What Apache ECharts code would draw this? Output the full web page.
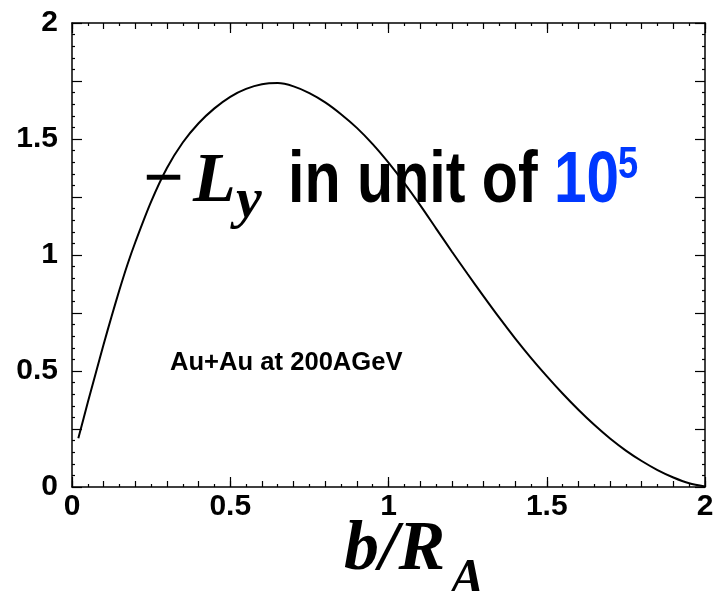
<!DOCTYPE html>
<html>
<head>
<meta charset="utf-8">
<script src="https://cdn.jsdelivr.net/npm/echarts@6/dist/echarts.min.js"></script>
<style>
html,body{margin:0;padding:0;background:#fff;}
#c{width:717px;height:591px;}
</style>
</head>
<body>
<div id="c"></div>
<script>
// Data
var bValues  = [0.02, 0.05, 0.075, 0.10, 0.125, 0.15, 0.175, 0.20, 0.25, 0.30, 0.35, 0.40, 0.45, 0.50, 0.55, 0.60, 0.65, 0.70, 0.75, 0.80, 0.85, 0.90, 0.95, 1.00, 1.05, 1.10, 1.15, 1.20, 1.25, 1.30, 1.35, 1.40, 1.45, 1.50, 1.55, 1.60, 1.65, 1.70, 1.75, 1.80, 1.85, 1.90, 1.95, 2.00];
var lyValues = [0.21, 0.365, 0.49, 0.615, 0.735, 0.85, 0.958, 1.055, 1.23, 1.375, 1.485, 1.568, 1.632, 1.682, 1.716, 1.736, 1.741, 1.727, 1.698, 1.658, 1.607, 1.548, 1.478, 1.398, 1.31, 1.215, 1.115, 1.015, 0.918, 0.823, 0.730, 0.641, 0.557, 0.478, 0.403, 0.333, 0.268, 0.209, 0.157, 0.112, 0.073, 0.041, 0.016, 0.002];
var xTicks = [0, 0.5, 1, 1.5, 2];
var yTicks = [0, 0.5, 1, 1.5, 2];
var titleMain = 'in unit of';
var titleExp = ['10', '5'];
var noteText = 'Au+Au at 200AGeV';

var SANS = '"Liberation Sans", Arial, Helvetica, sans-serif';
var SERIF = '"Liberation Serif", "Times New Roman", serif';
var BLUE = '#0038ff';

var chart = echarts.init(document.getElementById('c'), null, {renderer: 'canvas'});

function isMajor(v, list) {
  for (var i = 0; i < list.length; i++) if (Math.abs(list[i] - v) < 1e-9) return true;
  return false;
}

var lineStyle = {color: '#000', width: 1.5};
function xAx(pos, withLabel, major) {
  return {
    type: 'value', min: 0, max: 2, position: pos,
    interval: major ? 0.5 : 0.1,
    axisLine: {show: major, onZero: false, lineStyle: lineStyle},
    axisTick: {show: true, inside: true, length: major ? 10 : 6, lineStyle: {color: '#000', width: 1.2}},
    minorTick: {show: !major, splitNumber: 2, length: 3, lineStyle: {color: '#000', width: 1.2}},
    splitLine: {show: false}, minorSplitLine: {show: false},
    axisLabel: {show: withLabel, color: '#000', fontFamily: SANS, fontWeight: 'bold', fontSize: 30, margin: 5,
      formatter: function (v) { return isMajor(v, xTicks) ? String(v) : ''; }}
  };
}
function yAx(pos, withLabel) {
  return {
    type: 'value', min: 0, max: 2, position: pos, interval: 0.25,
    axisLine: {show: true, onZero: false, lineStyle: lineStyle},
    axisTick: {show: true, inside: true, length: 10, lineStyle: {color: '#000', width: 1.2}},
    minorTick: {show: true, splitNumber: 5, length: 3, lineStyle: {color: '#000', width: 1.2}},
    splitLine: {show: false}, minorSplitLine: {show: false},
    axisLabel: {show: withLabel, color: '#000', fontFamily: SANS, fontWeight: 'bold', fontSize: 30, margin: 14,
      formatter: function (v) { return isMajor(v, yTicks) ? String(v) : ''; }}
  };
}

function bl(baseline, size) { return baseline + 0.19 * size; }

var graphics = [
  {type: 'text', x: 143, y: bl(205, 72), style: {text: '\u2212', font: 'bold 72px ' + SERIF, fill: '#000', verticalAlign: 'bottom'}},
  {type: 'text', x: 193, y: bl(205, 70), style: {text: 'L', font: 'italic bold 70px ' + SERIF, fill: '#000', verticalAlign: 'bottom'}},
  {type: 'text', x: 236, y: bl(220, 58), style: {text: 'y', font: 'italic bold 58px ' + SERIF, fill: '#000', verticalAlign: 'bottom'}},
  {type: 'text', x: 288, y: bl(205, 72.6), scaleX: 0.815, style: {text: titleMain, font: 'bold 72.6px ' + SANS, fill: '#000', verticalAlign: 'bottom'}},
  {type: 'text', x: 554, y: bl(205, 72.6), scaleX: 0.806, style: {text: titleExp[0], font: 'bold 72.6px ' + SANS, fill: BLUE, verticalAlign: 'bottom'}},
  {type: 'text', x: 618, y: bl(180, 45), scaleX: 0.806, style: {text: titleExp[1], font: 'bold 45px ' + SANS, fill: BLUE, verticalAlign: 'bottom'}},
  {type: 'text', x: 170, y: bl(371, 25.6), style: {text: noteText, font: 'bold 25.6px ' + SANS, fill: '#000', verticalAlign: 'bottom'}},
  {type: 'text', x: 344, y: bl(573, 70), style: {text: 'b/R', font: 'italic bold 70px ' + SERIF, fill: '#000', verticalAlign: 'bottom'}},
  {type: 'text', x: 450, y: bl(598, 52), style: {text: 'A', font: 'italic bold 52px ' + SERIF, fill: '#000', verticalAlign: 'bottom'}}
];

var seriesData = bValues.map(function (b, i) { return [b, lyValues[i]]; });

chart.setOption({
  animation: false,
  backgroundColor: '#fff',
  grid: {left: 72, top: 23, right: 12, bottom: 104, containLabel: false},
  xAxis: [xAx('bottom', true, true), xAx('bottom', false, false), xAx('top', false, true), xAx('top', false, false)],
  yAxis: [yAx('left', true), yAx('right', false)],
  series: [{
    type: 'line', xAxisIndex: 0, yAxisIndex: 0, data: seriesData,
    smooth: 0.3, showSymbol: false, symbol: 'none',
    lineStyle: {color: '#000', width: 2}, z: 3
  }],
  graphic: graphics
});
</script>
</body>
</html>
